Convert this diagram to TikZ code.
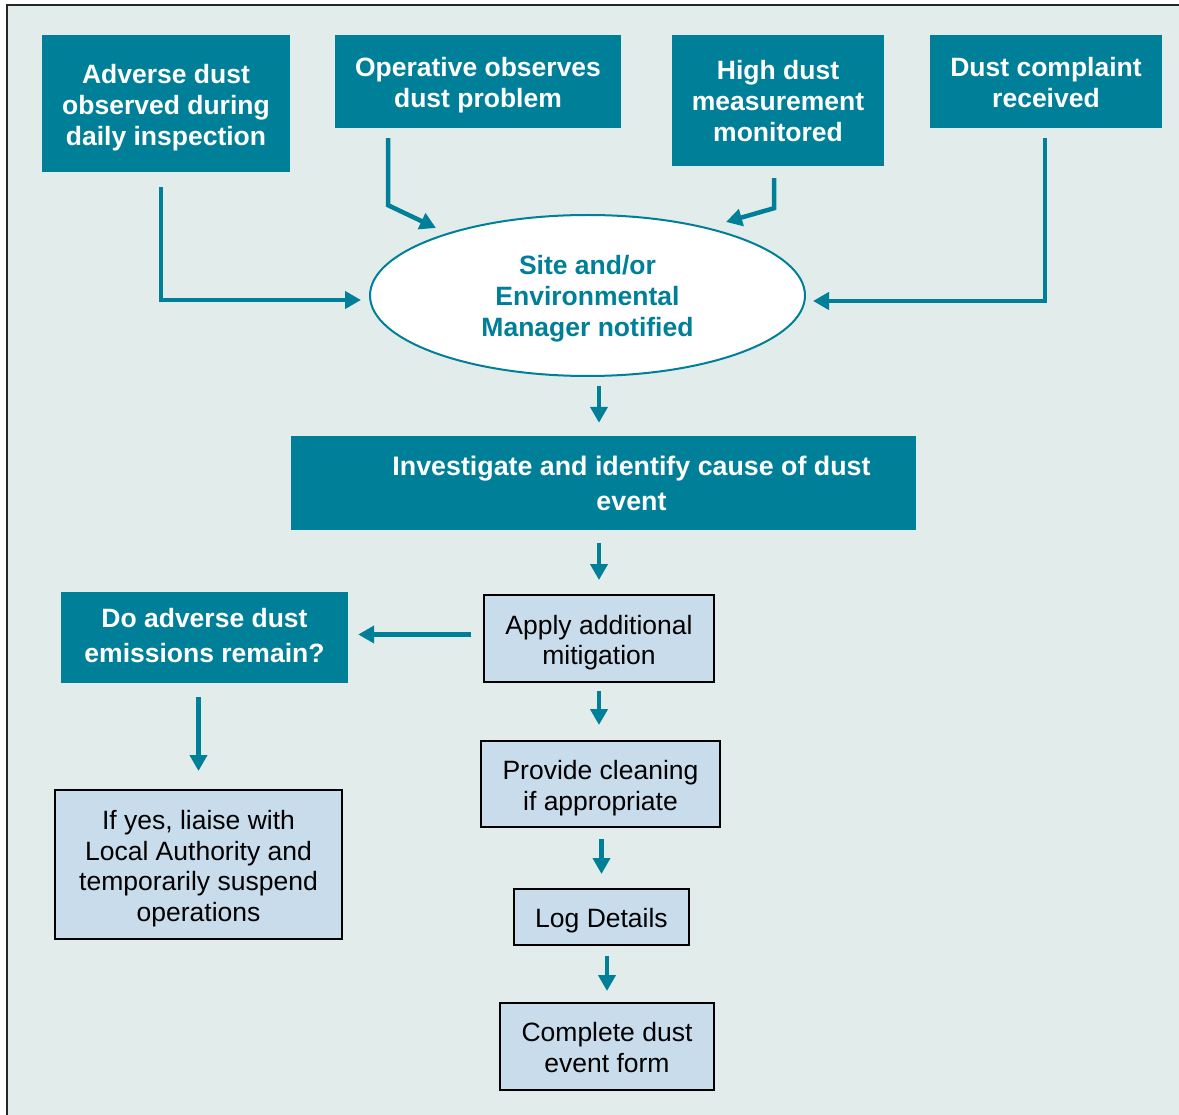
\documentclass[tikz,border=0pt]{standalone}
\usepackage{fontspec}
\setmainfont{Liberation Sans}
\usetikzlibrary{arrows.meta,shapes.geometric}
\definecolor{tealc}{HTML}{007F99}
\definecolor{lblue}{HTML}{C9DCEC}
\definecolor{bgc}{HTML}{E2ECEB}
\newcommand\dnrule[1]{\rule{0pt}{#1pt}}
\begin{document}
\begin{tikzpicture}[x=1pt,y=-1pt,
  tbox/.style={fill=tealc, text=white, font=\fontsize{26.5}{31}\selectfont\bfseries, align=center, inner sep=0pt},
  lbox/.style={fill=lblue, draw=black, line width=2pt, font=\fontsize{26.5}{30.5}\selectfont, align=center, inner sep=0pt},
  arr/.style={draw=tealc, line width=4.5pt, -{Triangle[length=16pt,width=17pt]}},
  up/.style={execute at end node={\rule[-#1pt]{0pt}{0pt}}}]
\useasboundingbox (0,0) rectangle (1179,1115);
\fill[bgc] (7,5) rectangle (1179,1115);
\draw[black!85, line width=2pt] (7,1115) -- (7,5) -- (1179,5);

\node[tbox, minimum width=248, minimum height=137] (A) at (166,103.5) {\dnrule{27}Adverse dust\\observed during\\daily inspection};
\node[tbox, minimum width=286, minimum height=93] (B) at (478,81.5) {\dnrule{27}Operative observes\\dust problem};
\node[tbox, minimum width=212, minimum height=131] (C) at (778,100.5) {\dnrule{21}High dust\\measurement\\monitored};
\node[tbox, minimum width=232, minimum height=93] (D) at (1046,81.5) {\dnrule{21}Dust complaint\\received};

\node[ellipse, fill=white, draw=tealc, line width=2pt, minimum width=435, minimum height=161, inner sep=0pt,
  text=tealc, font=\fontsize{26.5}{31}\selectfont\bfseries, align=center] (ell) at (587.5,295.5) {\dnrule{25}Site and/or\\Environmental\\Manager notified};

\node[tbox, font=\fontsize{26.8}{35}\selectfont\bfseries, minimum width=625, minimum height=94] (E) at (603.5,483)
  {\hspace*{56pt}Investigate and identify cause of dust\\\hspace*{56pt}event};

\node[lbox, minimum width=230, minimum height=87] (F) at (599,638.5) {\dnrule{27}Apply additional\\mitigation};
\node[tbox, up=4, font=\fontsize{26.5}{35}\selectfont\bfseries, minimum width=287, minimum height=91] (G) at (204.5,637.5) {Do adverse dust\\emissions remain?};
\node[lbox, minimum width=287, minimum height=149] (H) at (198.5,864.5) {\dnrule{27}If yes, liaise with\\Local Authority and\\temporarily suspend\\operations};
\node[lbox, minimum width=239, minimum height=86] (I) at (600.5,784) {\dnrule{27}Provide cleaning\\if appropriate};
\node[lbox, minimum width=175, minimum height=56] (J) at (601.5,917) {\dnrule{27}Log Details};
\node[lbox, minimum width=214, minimum height=87] (K) at (607,1046.5) {\dnrule{21}Complete dust\\event form};

% top arrows
\draw[arr] ([shift={(-5,15)}]A.south) |- ([shift={(-8,4.5)}]ell.west);
\draw[arr] ([shift={(-90,10)}]B.south) -- ++(0,67) -- ([shift={(-151.5,-67.5)}]ell.center);
\draw[arr] ([shift={(-4,12)}]C.south) -- ++(0,30) -- ([shift={(138.5,-73.5)}]ell.center);
\draw[arr] ([shift={(-1,10)}]D.south) |- ([shift={(7,5.5)}]ell.east);

% main flow
\draw[arr, shorten <=9pt, shorten >=13pt] (ell.south -| F) -- (E.north -| F);
\draw[arr, shorten <=13pt, shorten >=14pt] (E.south -| F) -- (F.north);
\draw[arr, shorten <=12pt, shorten >=10pt] ([yshift=4pt]F.west) -- ([yshift=4pt]F.west -| G.east);
\draw[arr, shorten <=14pt, shorten >=18pt] (G.south -| H) -- (H.north);
\draw[arr, shorten <=8pt, shorten >=15pt] (F.south) -- (I.north -| F);
\draw[arr, shorten <=11pt, shorten >=14pt] (I.south -| J) -- (J.north);
\draw[arr, shorten <=10pt, shorten >=11pt] (J.south -| K) -- (K.north);
\end{tikzpicture}
\end{document}
